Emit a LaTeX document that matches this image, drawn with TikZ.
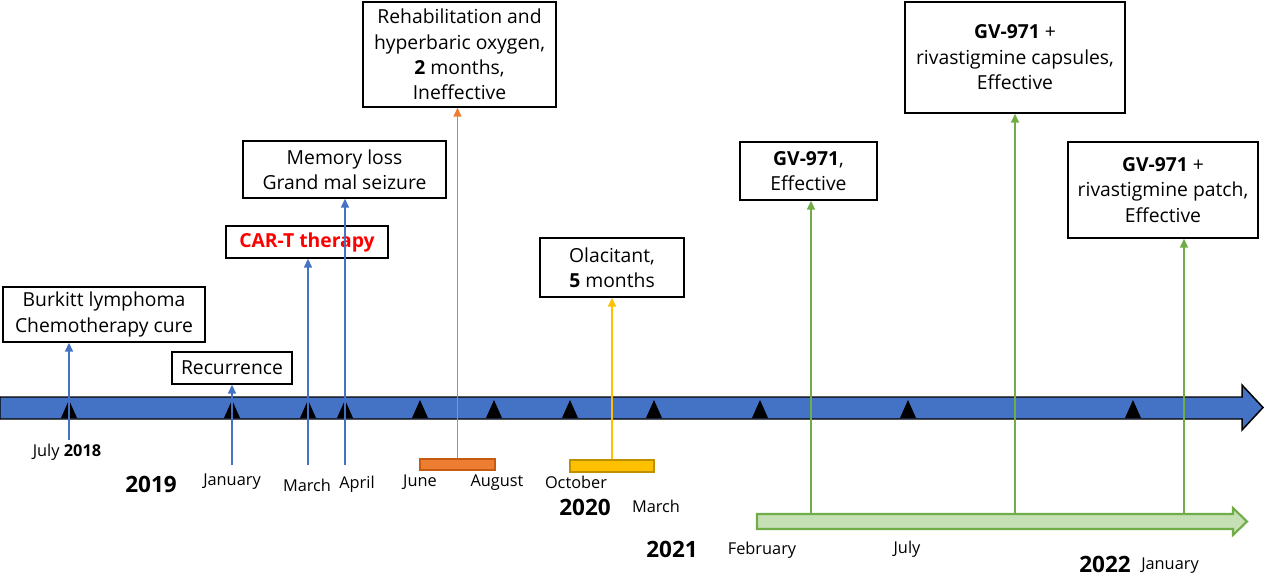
\documentclass[tikz,border=0pt]{standalone}
\usepackage{fontspec}
\setmainfont{Open Sans}
\usetikzlibrary{arrows.meta}
\definecolor{lineblue}{HTML}{4472C4}
\definecolor{lineorange}{HTML}{ED7D31}
\definecolor{barorange}{HTML}{C55A11}
\definecolor{lineyellow}{HTML}{FFC000}
\definecolor{baryellow}{HTML}{BF9000}
\definecolor{linegreen}{HTML}{70AD47}
\definecolor{fillgreen}{HTML}{C5E0B4}
\tikzset{
  evbox/.style={draw=black,line width=0.85pt,align=center,inner sep=0pt,
    font=\fontsize{11}{14.5}\selectfont},
  month/.style={font=\fontsize{9.3}{10}\selectfont},
  year/.style={font=\fontsize{12.8}{14}\selectfont\bfseries},
  up/.style={-{Triangle[length=5pt,width=4.5pt]},line width=0.85pt},
}
\begin{document}
\begin{tikzpicture}[x=0.02cm,y=-0.02cm]
  \useasboundingbox (0,0) rectangle (1264,577);
  % 时间轴
  \draw[fill=lineblue,line width=0.85pt] (0,397) -- (1242,397) -- (1242,385) -- (1263,407.5)
    -- (1242,430) -- (1242,419) -- (0,419) -- cycle;
  \foreach \t in {69,232,308,345,420,494,570,654,760,908,1133}
    \fill (\t-8,418) -- (\t,400) -- (\t+8,418) -- cycle;
  \draw[fill=fillgreen,draw=linegreen,line width=1.2pt] (757,514) -- (1233,514) -- (1233,508)
    -- (1247,521.5) -- (1233,535) -- (1233,529) -- (757,529) -- cycle;
  \node (barJun) [draw=barorange,fill=lineorange,line width=0.6pt,minimum width=1.5cm,
    minimum height=0.22cm,inner sep=0pt] at (457.5,464.5) {};
  \node (barOct) [draw=baryellow,fill=lineyellow,line width=0.6pt,minimum width=1.68cm,
    minimum height=0.24cm,inner sep=0pt] at (612,466) {};
  % 事件框
  \node (burkitt) [evbox,minimum width=4.04cm,minimum height=1.1cm] at (104,314.5)
    {Burkitt lymphoma\\Chemotherapy cure};
  \node (recur) [evbox,minimum width=2.4cm,minimum height=0.64cm] at (232,368) {Recurrence};
  \node (cart) [evbox,minimum width=3.24cm,minimum height=0.64cm,text=red,
    font=\fontsize{11}{14.5}\selectfont\bfseries] at (307,242) {CAR-T therapy};
  \node (memory) [evbox,minimum width=4.06cm,minimum height=1.14cm] at (344.5,169.5)
    {Memory loss\\Grand mal seizure};
  \node (rehab) [evbox,minimum width=3.86cm,minimum height=2.1cm] at (459.5,54.5)
    {Rehabilitation and\\hyperbaric oxygen,\\\textbf{2} months,\\Ineffective};
  \node (olac) [evbox,minimum width=2.88cm,minimum height=1.18cm] at (612,267.5)
    {Olacitant,\\\textbf{5} months};
  \node (gvA) [evbox,minimum width=2.74cm,minimum height=1.16cm] at (808.5,171)
    {\textbf{GV-971},\\Effective};
  \node (gvB) [evbox,minimum width=4.4cm,minimum height=2.22cm] at (1015,57.5)
    {\textbf{GV-971} +\\rivastigmine capsules,\\Effective};
  \node (gvC) [evbox,minimum width=3.8cm,minimum height=1.92cm] at (1163,190)
    {\textbf{GV-971} +\\rivastigmine patch,\\Effective};
  % 竖线
  \coordinate (tJul) at (69,440);
  \coordinate (tJan) at (232,465);
  \coordinate (tMar) at (308,465);
  \coordinate (tApr) at (345,465);
  \coordinate (tFeb) at (811,514);
  \coordinate (tJuly) at (1015,514);
  \coordinate (tJanB) at (1184,514);
  \draw[up,lineblue] (tJul) -- (burkitt.south -| tJul);
  \draw[up,lineblue] (tJan) -- (recur.south -| tJan);
  \draw[up,lineblue] (tMar) -- (cart.south -| tMar);
  \draw[up,lineblue] (tApr) -- (memory.south -| tApr);
  \draw[up,lineorange,line width=0.7pt] (barJun.north) -- (rehab.south -| barJun.north);
  \draw[up,lineyellow] (barOct.north) -- (olac.south -| barOct.north);
  \draw[up,linegreen] (tFeb) -- (gvA.south -| tFeb);
  \draw[up,linegreen] (tJuly) -- (gvB.south -| tJuly);
  \draw[up,linegreen] (tJanB) -- (gvC.south -| tJanB);
  % 月份和年份
  \node (lJul) [month] at (67,452) {July \textbf{2018}};
  \node (y2019) [year] at (151,484) {2019};
  \node (lJan) [month] at (232,482) {January};
  \node (lMar) [month] at (307,485) {March};
  \node (lApr) [month] at (357,484) {April};
  \node (lJun) [month] at (420,482) {June};
  \node (lAug) [month] at (497,483) {August};
  \node (lOct) [month] at (576,482) {October};
  \node (y2020) [year] at (585,507) {2020};
  \node (lMarB) [month] at (656,506) {March};
  \node (y2021) [year] at (672,549) {2021};
  \node (lFeb) [month] at (762,550) {February};
  \node (lJuly) [month] at (907,549) {July};
  \node (y2022) [year] at (1105,564) {2022};
  \node (lJanB) [month] at (1170,566) {January};
\end{tikzpicture}
\end{document}
